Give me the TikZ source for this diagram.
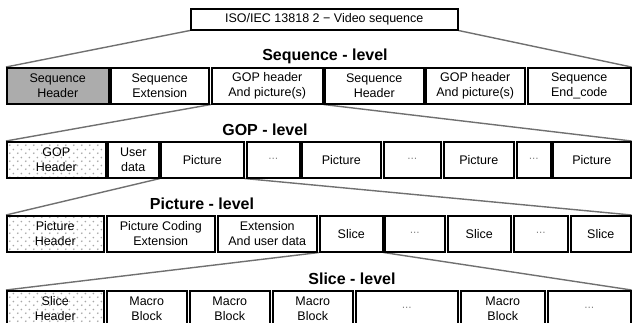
\documentclass[tikz,border=0pt]{standalone}
\usepackage{fontspec}
\setmainfont{Liberation Sans}
\usetikzlibrary{patterns.meta,backgrounds}
\definecolor{conngray}{RGB}{112,112,112}
\definecolor{hdrgray}{RGB}{172,172,172}
\definecolor{dotgray}{RGB}{168,168,168}
\tikzdeclarepattern{
  name=sparsedots,
  type=uncolored,
  bounding box={(0pt,0pt) and (8pt,8pt)},
  tile size={(8pt,8pt)},
  code={\fill (2pt,2pt) circle (1pt); \fill (6pt,6pt) circle (1pt);}
}
\tikzset{
  box/.style={draw=black, line width=1.5pt, minimum height=36pt, inner sep=0pt,
    align=center, anchor=north west, font=\fontsize{12.5}{14.5}\selectfont},
  grayhdr/.style={box, fill=hdrgray},
  dothdr/.style={box, pattern={sparsedots}, pattern color=dotgray},
  dotsbox/.style={box, font=\fontsize{10}{10}\selectfont, text=black!65},
  conn/.style={draw=conngray, line width=1.4pt},
  lvl/.style={font=\fontsize{16}{18}\selectfont\bfseries},
  topbox/.style={draw=black, line width=1.5pt, minimum height=21pt, inner sep=0pt,
    anchor=north west, font=\fontsize{12.5}{14.5}\selectfont}
}
\begin{document}
\begin{tikzpicture}[x=1pt,y=-1pt]
\useasboundingbox (0,0) rectangle (632,322);
% top
\node[topbox, minimum width=267pt] (top) at (190,8) {ISO/IEC 13818 2 − Video sequence};
% Sequence level
\node[lvl] (l1) at (325,56) {Sequence - level};
\node[grayhdr, minimum width=102pt] (sh1) at (6,67) {Sequence\\Header};
\node[box, minimum width=98pt] (se) at (110,67) {Sequence\\Extension};
\node[box, minimum width=111pt] (gop1) at (211,67) {GOP header\\And picture(s)};
\node[box, minimum width=99pt] (sh2) at (324,67) {Sequence\\Header};
\node[box, minimum width=99pt] (gop2) at (425,67) {GOP header\\And picture(s)};
\node[box, minimum width=103pt] (end) at (527,67) {Sequence\\End\_code};
% GOP level
\node[lvl] (l2) at (265,130) {GOP - level};
\node[dothdr, minimum width=99pt] (gh) at (6,141) {GOP\\Header};
\node[box, minimum width=51pt] (ud) at (107,141) {User\\data};
\node[box, minimum width=83pt] (p1) at (160,141) {Picture};
\node[dotsbox, minimum width=53pt] (d1) at (246,141) {···};
\node[box, minimum width=79pt] (p2) at (301,141) {Picture};
\node[dotsbox, minimum width=57pt] (d2) at (383,141) {···};
\node[box, minimum width=70pt] (p3) at (443,141) {Picture};
\node[dotsbox, minimum width=34pt] (d3) at (516,141) {···};
\node[box, minimum width=78pt] (p4) at (552,141) {Picture};
% Picture level
\node[lvl] (l3) at (202,204) {Picture - level};
\node[dothdr, minimum width=97pt] (ph) at (6,215) {Picture\\Header};
\node[box, minimum width=108pt] (pce) at (106,215) {Picture Coding\\Extension};
\node[box, minimum width=99pt] (ext) at (217,215) {Extension\\And user data};
\node[box, minimum width=63pt] (s1) at (319,215) {Slice};
\node[dotsbox, minimum width=60pt] (d4) at (384,215) {···};
\node[box, minimum width=63pt] (s2) at (447,215) {Slice};
\node[dotsbox, minimum width=54pt] (d5) at (513,215) {···};
\node[box, minimum width=60pt] (s3) at (570,215) {Slice};
% Slice level
\node[lvl] (l4) at (352,279) {Slice - level};
\node[dothdr, minimum width=97pt] (shd) at (6,290) {Slice\\Header};
\node[box, minimum width=80pt] (m1) at (106,290) {Macro\\Block};
\node[box, minimum width=80pt] (m2) at (189,290) {Macro\\Block};
\node[box, minimum width=80pt] (m3) at (272,290) {Macro\\Block};
\node[dotsbox, minimum width=102pt] (d6) at (355,290) {···};
\node[box, minimum width=84pt] (m4) at (460,290) {Macro\\Block};
\node[dotsbox, minimum width=83pt] (d7) at (547,290) {···};
% connectors
\begin{scope}[on background layer]
\draw[conn] (top.south west) -- (sh1.north west);
\draw[conn] (top.south east) -- (end.north east);
\draw[conn] (gop1.south west) -- (gh.north west);
\draw[conn] (gop1.south east) -- (p4.north east);
\draw[conn] (p1.south west) -- (ph.north west);
\draw[conn] (p1.south east) -- (s3.north east);
\draw[conn] (s1.south west) -- (shd.north west);
\draw[conn] (s1.south east) -- (d7.north east);
\end{scope}
\end{tikzpicture}
\end{document}
